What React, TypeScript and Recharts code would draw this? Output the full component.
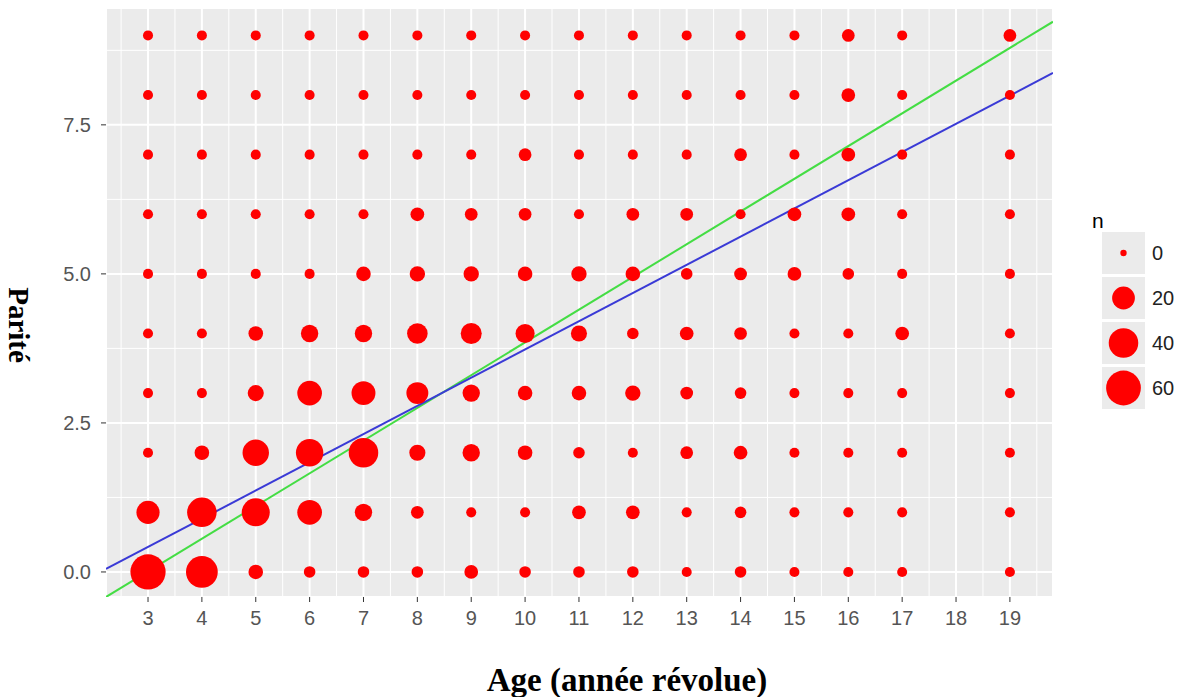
import React from 'react';
import {
  ScatterChart,
  Scatter,
  XAxis,
  YAxis,
  CartesianGrid,
  ReferenceLine,
} from 'recharts';

// ages on the x axis (18 has no observations)
const ages = [3, 4, 5, 6, 7, 8, 9, 10, 11, 12, 13, 14, 15, 16, 17, 19];

// counts n for each parity, one value per age above
const parite0 = [62, 48, 5, 2, 2, 2, 4, 2, 2, 2, 1, 2, 1, 1, 1, 1];
const parite1 = [21, 40, 35, 25, 9, 3, 1, 1, 4, 4, 1, 2, 1, 1, 1, 1];
const parite2 = [1, 5, 30, 33, 40, 7, 9, 5, 2, 1, 3, 4, 1, 1, 1, 1];
const parite3 = [1, 1, 7, 25, 23, 18, 9, 5, 5, 6, 3, 2, 1, 1, 1, 1];
const parite4 = [1, 1, 5, 9, 9, 15, 16, 12, 7, 2, 4, 3, 1, 1, 4, 1];
const parite5 = [1, 1, 1, 1, 5, 6, 6, 5, 6, 5, 2, 3, 4, 2, 1, 1];
const parite6 = [1, 1, 1, 1, 1, 4, 3, 3, 1, 3, 3, 1, 4, 4, 1, 1];
const parite7 = [1, 1, 1, 1, 1, 1, 1, 3, 1, 1, 1, 3, 1, 4, 1, 1];
const parite8 = [1, 1, 1, 1, 1, 1, 1, 1, 1, 1, 1, 1, 1, 4, 1, 1];
const parite9 = [1, 1, 1, 1, 1, 1, 1, 1, 1, 1, 1, 1, 1, 3, 1, 3];

const xTicks = [3, 4, 5, 6, 7, 8, 9, 10, 11, 12, 13, 14, 15, 16, 17, 18, 19];
const yTicks = [0, 2.5, 5, 7.5];
const xMinor = [2.5, 3.5, 4.5, 5.5, 6.5, 7.5, 8.5, 9.5, 10.5, 11.5, 12.5, 13.5, 14.5, 15.5, 16.5, 17.5, 18.5, 19.5];
const yMinor = [1.25, 3.75, 6.25, 8.75];

// fitted lines, ends at the panel edges
const lineAges = [2.22, 19.8];
const greenLine = [-0.42, 9.23];
const blueLine = [0.05, 8.37];

const legendValues = [0, 20, 40, 60];

const rows = [parite0, parite1, parite2, parite3, parite4, parite5, parite6, parite7, parite8, parite9];
const points = rows.flatMap((row, p) => row.map((n, i) => ({ age: ages[i], parite: p, n })));

// ggplot-like area scale: diameter grows with sqrt(n)
const dotRadius = (n: number) => 3.2 + 1.83 * Math.sqrt(n);

const tickStyle = { fill: '#555', fontSize: 20, fontFamily: 'Liberation Sans, Arial, sans-serif' };

const Dot = (props: any) => {
  const n = props.payload?.n ?? props.n;
  return <circle cx={props.cx} cy={props.cy} r={dotRadius(n)} fill="#ff0000" />;
};

export default function App() {
  return (
    <div style={{ position: 'absolute', left: 0, top: 0, width: 1187, height: 697, background: '#fff' }}>
      <ScatterChart width={1187} height={697} margin={{ top: 8, right: 134, bottom: 0, left: 0 }}>
        <CartesianGrid fill="#ebebeb" fillOpacity={1} stroke="#ffffff" strokeWidth={2} />
        {xMinor.map((v) => (
          <ReferenceLine key={'vx' + v} x={v} stroke="#ffffff" strokeWidth={1} />
        ))}
        {yMinor.map((v) => (
          <ReferenceLine key={'hy' + v} y={v} stroke="#ffffff" strokeWidth={1} />
        ))}
        <XAxis
          type="number"
          dataKey="age"
          domain={[2.22, 19.8]}
          ticks={xTicks}
          interval={0}
          allowDataOverflow
          axisLine={false}
          tickLine={{ stroke: '#333' }}
          tickSize={5}
          tickMargin={9}
          tick={tickStyle}
          height={100}
        />
        <YAxis
          type="number"
          dataKey="parite"
          domain={[-0.42, 9.46]}
          ticks={yTicks}
          interval={0}
          allowDataOverflow
          axisLine={false}
          tickLine={{ stroke: '#333' }}
          tickSize={5}
          tickMargin={10}
          tick={tickStyle}
          tickFormatter={(v: number) => v.toFixed(1)}
          width={106}
        />
        <Scatter data={points} shape={Dot} isAnimationActive={false} />
        <ReferenceLine
          segment={[{ x: lineAges[0], y: greenLine[0] }, { x: lineAges[1], y: greenLine[1] }]}
          stroke="#44dd44"
          strokeWidth={2}
          ifOverflow="hidden"
        />
        <ReferenceLine
          segment={[{ x: lineAges[0], y: blueLine[0] }, { x: lineAges[1], y: blueLine[1] }]}
          stroke="#3a3ad6"
          strokeWidth={2}
          ifOverflow="hidden"
        />
      </ScatterChart>

      <div
        style={{
          position: 'absolute',
          left: 627,
          top: 680,
          transform: 'translate(-50%, -50%)',
          fontFamily: 'Liberation Serif, Times New Roman, serif',
          fontWeight: 'bold',
          fontSize: 33,
          whiteSpace: 'nowrap',
          color: '#000',
        }}
      >
        Age (année révolue)
      </div>
      <div
        style={{
          position: 'absolute',
          left: 18,
          top: 325,
          transform: 'translate(-50%, -50%) rotate(90deg)',
          fontFamily: 'Liberation Serif, Times New Roman, serif',
          fontWeight: 'bold',
          fontSize: 29,
          whiteSpace: 'nowrap',
          color: '#000',
        }}
      >
        Parité
      </div>

      <svg style={{ position: 'absolute', left: 1080, top: 200 }} width={107} height={230}>
        <text x={12} y={28} fontSize={21} fontFamily="Liberation Sans, Arial, sans-serif" fill="#000">
          n
        </text>
        {legendValues.map((v, i) => {
          const cy = 53 + i * 45;
          return (
            <g key={v}>
              <rect x={22} y={cy - 21} width={43} height={42} fill="#ebebeb" />
              <circle cx={43.5} cy={cy} r={dotRadius(v)} fill="#ff0000" />
              <text
                x={72}
                y={cy}
                dy="0.35em"
                fontSize={20}
                fontFamily="Liberation Sans, Arial, sans-serif"
                fill="#222"
              >
                {v}
              </text>
            </g>
          );
        })}
      </svg>
    </div>
  );
}
